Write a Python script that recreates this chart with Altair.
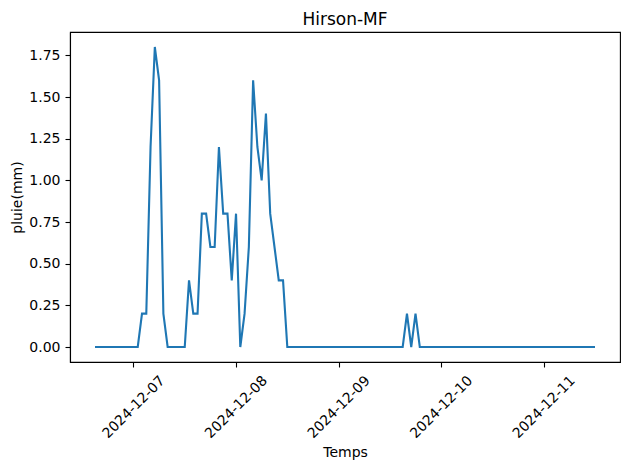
import altair as alt
import pandas as pd

# Hourly rainfall, 2024-12-06 15:00 UTC to 2024-12-11 12:00 UTC
start_time = "2024-12-06 15:00"
pluie = [
    0, 0, 0, 0, 0, 0, 0, 0, 0, 0, 0,          # 12-06 15h .. 12-07 01h
    0.2, 0.2, 1.2, 1.8, 1.6, 0.2,             # 02h .. 07h
    0, 0, 0, 0, 0,                            # 08h .. 12h
    0.4, 0.2, 0.2, 0.8, 0.8, 0.6, 0.6, 1.2, 0.8, 0.8, 0.4,  # 13h .. 23h
    0.8, 0, 0.2, 0.6, 1.6, 1.2, 1.0, 1.4, 0.8, 0.6, 0.4, 0.4,  # 12-08 00h .. 11h
    0, 0, 0, 0, 0, 0, 0, 0, 0, 0, 0, 0, 0, 0,
    0, 0, 0, 0, 0, 0, 0, 0, 0, 0, 0, 0, 0, 0,  # 12-08 12h .. 12-09 15h
    0.2, 0, 0.2,                               # 12-09 16h .. 18h
    0, 0, 0, 0, 0, 0, 0, 0, 0, 0, 0, 0, 0, 0,
    0, 0, 0, 0, 0, 0, 0, 0, 0, 0, 0, 0, 0, 0,
    0, 0, 0, 0, 0, 0, 0, 0, 0, 0, 0, 0, 0, 0,  # 12-09 19h .. 12-11 12h
]
tick_days = [7, 8, 9, 10, 11]
y_ticks = [0, 0.25, 0.5, 0.75, 1.0, 1.25, 1.5, 1.75]
chart_title = ["Hirson-MF"]

times = pd.date_range(start_time, periods=len(pluie), freq="h")
df = pd.DataFrame({
    "Temps": times.strftime("%Y-%m-%dT%H:%M:%SZ"),
    "pluie": pluie,
})

font = "DejaVu Sans"

x_axis = alt.Axis(
    values=[alt.DateTime(year=2024, month=12, date=d, utc=True) for d in tick_days],
    format="%Y-%m-%d",
    labelAngle=-45,
    labelAlign="center",
    labelBaseline="middle",
    labelPadding=40,
    labelFontSize=14,
    tickSize=5,
    title="Temps",
    titleY=90,
    titleBaseline="middle",
    titleFontSize=14,
    titleFontWeight="normal",
    grid=False,
    labelFlush=False,
    labelOverlap=False,
)
y_axis = alt.Axis(
    values=y_ticks,
    format=".2f",
    labelFontSize=14,
    labelPadding=5,
    tickSize=5,
    title="pluie(mm)",
    titleX=-53,
    titleBaseline="middle",
    titleFontSize=14,
    titleFontWeight="normal",
    grid=False,
)

line = alt.Chart(df).mark_line(color="#1f77b4", strokeWidth=2.1, clip=True).encode(
    x=alt.X(
        "Temps:T",
        scale=alt.Scale(
            type="utc",
            domain=[
                alt.DateTime(year=2024, month=12, date=6, hours=9, minutes=9, utc=True),
                alt.DateTime(year=2024, month=12, date=11, hours=17, minutes=51, utc=True),
            ],
        ),
        axis=x_axis,
    ),
    y=alt.Y(
        "pluie:Q",
        scale=alt.Scale(domain=[-0.09, 1.89], nice=False, zero=False),
        axis=y_axis,
    ),
)

title = alt.Chart(pd.DataFrame({"t": chart_title})).mark_text(
    font=font, fontSize=17, color="black", align="center", baseline="alphabetic",
).encode(
    text="t:N",
    x=alt.value(275),
    y=alt.value(-7.5),
)

chart = alt.layer(line, title).properties(
    width=550,
    height=330,
    autosize=alt.AutoSizeParams(type="none"),
    padding={"left": 62, "top": 24, "right": 2, "bottom": 98},
).configure(
    font=font,
).configure_axis(
    domainColor="black",
    domainWidth=1.1,
    tickColor="black",
    tickWidth=1.1,
    labelColor="black",
    titleColor="black",
    labelFont=font,
    titleFont=font,
).configure_view(
    stroke="black",
    strokeWidth=1.1,
)

chart.save("out.html", embed_options={"renderer": "svg", "actions": False})
